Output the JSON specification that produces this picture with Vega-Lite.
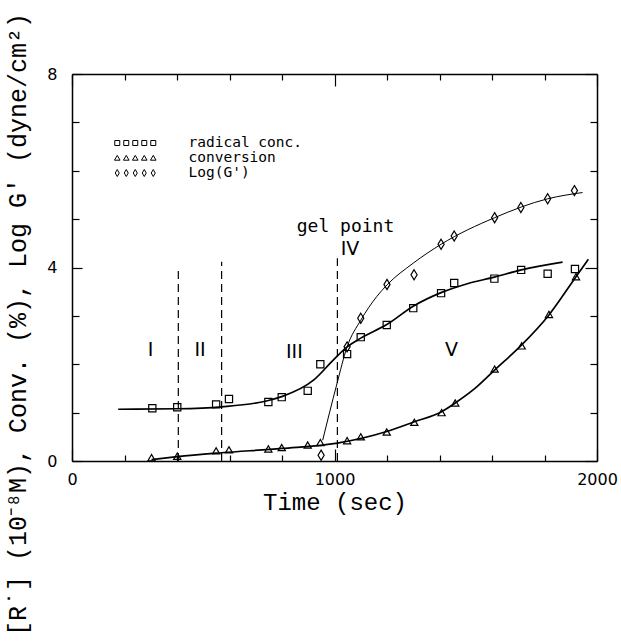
{
  "$schema": "https://vega.github.io/schema/vega-lite/v6.json",
  "width": 525,
  "height": 387,
  "autosize": {"type": "none"},
  "padding": {"left": 72, "top": 74, "right": 24, "bottom": 182},
  "background": "white",
  "config": {
    "view": {"stroke": null},
    "axis": {
      "domainColor": "black",
      "domainWidth": 1.5,
      "tickColor": "black",
      "tickWidth": 1.2,
      "labelColor": "black",
      "labelFont": "DejaVu Sans",
      "labelFontSize": 16,
      "titleColor": "black",
      "grid": false
    }
  },
  "datasets": {
    "pts": [
      {"series": "radical conc.", "time": 306, "value": 1.09},
      {"series": "radical conc.", "time": 401, "value": 1.11},
      {"series": "radical conc.", "time": 549, "value": 1.17},
      {"series": "radical conc.", "time": 598, "value": 1.28},
      {"series": "radical conc.", "time": 748, "value": 1.22},
      {"series": "radical conc.", "time": 799, "value": 1.32},
      {"series": "radical conc.", "time": 898, "value": 1.45},
      {"series": "radical conc.", "time": 946, "value": 2.0},
      {"series": "radical conc.", "time": 1048, "value": 2.21},
      {"series": "radical conc.", "time": 1100, "value": 2.56},
      {"series": "radical conc.", "time": 1199, "value": 2.81},
      {"series": "radical conc.", "time": 1300, "value": 3.16},
      {"series": "radical conc.", "time": 1406, "value": 3.47},
      {"series": "radical conc.", "time": 1456, "value": 3.68},
      {"series": "radical conc.", "time": 1609, "value": 3.77},
      {"series": "radical conc.", "time": 1711, "value": 3.95},
      {"series": "radical conc.", "time": 1812, "value": 3.87},
      {"series": "radical conc.", "time": 1916, "value": 3.97},
      {"series": "conversion", "time": 303, "value": 0.07},
      {"series": "conversion", "time": 401, "value": 0.1},
      {"series": "conversion", "time": 549, "value": 0.21},
      {"series": "conversion", "time": 598, "value": 0.23},
      {"series": "conversion", "time": 748, "value": 0.25},
      {"series": "conversion", "time": 799, "value": 0.28},
      {"series": "conversion", "time": 898, "value": 0.33},
      {"series": "conversion", "time": 946, "value": 0.38},
      {"series": "conversion", "time": 1048, "value": 0.42},
      {"series": "conversion", "time": 1100, "value": 0.5},
      {"series": "conversion", "time": 1199, "value": 0.6},
      {"series": "conversion", "time": 1304, "value": 0.8},
      {"series": "conversion", "time": 1408, "value": 1.0},
      {"series": "conversion", "time": 1460, "value": 1.2},
      {"series": "conversion", "time": 1610, "value": 1.9},
      {"series": "conversion", "time": 1713, "value": 2.38},
      {"series": "conversion", "time": 1817, "value": 3.03},
      {"series": "conversion", "time": 1920, "value": 3.81},
      {"series": "Log(G')", "time": 949, "value": 0.12},
      {"series": "Log(G')", "time": 1048, "value": 2.36},
      {"series": "Log(G')", "time": 1100, "value": 2.95},
      {"series": "Log(G')", "time": 1200, "value": 3.65},
      {"series": "Log(G')", "time": 1303, "value": 3.85},
      {"series": "Log(G')", "time": 1406, "value": 4.48},
      {"series": "Log(G')", "time": 1456, "value": 4.65},
      {"series": "Log(G')", "time": 1610, "value": 5.03},
      {"series": "Log(G')", "time": 1710, "value": 5.24},
      {"series": "Log(G')", "time": 1812, "value": 5.42},
      {"series": "Log(G')", "time": 1914, "value": 5.59}
    ],
    "curves": [
      {"series": "radical conc.", "time": 176, "value": 1.07},
      {"series": "radical conc.", "time": 401, "value": 1.08},
      {"series": "radical conc.", "time": 570, "value": 1.12},
      {"series": "radical conc.", "time": 748, "value": 1.25},
      {"series": "radical conc.", "time": 799, "value": 1.33},
      {"series": "radical conc.", "time": 920, "value": 1.67},
      {"series": "radical conc.", "time": 996, "value": 2.09},
      {"series": "radical conc.", "time": 1048, "value": 2.36},
      {"series": "radical conc.", "time": 1100, "value": 2.54},
      {"series": "radical conc.", "time": 1199, "value": 2.82},
      {"series": "radical conc.", "time": 1300, "value": 3.2},
      {"series": "radical conc.", "time": 1406, "value": 3.48},
      {"series": "radical conc.", "time": 1503, "value": 3.66},
      {"series": "radical conc.", "time": 1609, "value": 3.8},
      {"series": "radical conc.", "time": 1712, "value": 3.95},
      {"series": "radical conc.", "time": 1869, "value": 4.11},
      {"series": "conversion", "time": 303, "value": 0.03},
      {"series": "conversion", "time": 401, "value": 0.09},
      {"series": "conversion", "time": 570, "value": 0.17},
      {"series": "conversion", "time": 799, "value": 0.26},
      {"series": "conversion", "time": 1011, "value": 0.37},
      {"series": "conversion", "time": 1199, "value": 0.61},
      {"series": "conversion", "time": 1304, "value": 0.81},
      {"series": "conversion", "time": 1408, "value": 1.02},
      {"series": "conversion", "time": 1460, "value": 1.2},
      {"series": "conversion", "time": 1535, "value": 1.5},
      {"series": "conversion", "time": 1610, "value": 1.88},
      {"series": "conversion", "time": 1713, "value": 2.4},
      {"series": "conversion", "time": 1817, "value": 3.02},
      {"series": "conversion", "time": 1920, "value": 3.81},
      {"series": "conversion", "time": 1967, "value": 4.17},
      {"series": "Log(G')", "time": 955, "value": 0.43},
      {"series": "Log(G')", "time": 1008, "value": 1.57},
      {"series": "Log(G')", "time": 1048, "value": 2.36},
      {"series": "Log(G')", "time": 1100, "value": 2.91},
      {"series": "Log(G')", "time": 1161, "value": 3.4},
      {"series": "Log(G')", "time": 1200, "value": 3.64},
      {"series": "Log(G')", "time": 1300, "value": 4.09},
      {"series": "Log(G')", "time": 1406, "value": 4.48},
      {"series": "Log(G')", "time": 1610, "value": 5.03},
      {"series": "Log(G')", "time": 1812, "value": 5.42},
      {"series": "Log(G')", "time": 1945, "value": 5.55}
    ],
    "dividers": [
      {"time": 405, "bottom": 0, "top": 3.98},
      {"time": 570, "bottom": 0, "top": 4.12},
      {"time": 1011, "bottom": 0, "top": 4.19}
    ],
    "regions": [
      {"label": "I", "time": 299, "value": 2.29},
      {"label": "II", "time": 488, "value": 2.29},
      {"label": "III", "time": 847, "value": 2.26},
      {"label": "IV", "time": 1059, "value": 4.38},
      {"label": "V", "time": 1446, "value": 2.29}
    ],
    "notes": [
      {"label": "gel point", "time": 1042, "value": 4.84}
    ]
  },
  "layer": [
    {
      "data": {"name": "curves"},
      "mark": {"type": "line", "interpolate": "monotone", "color": "black"},
      "encoding": {
        "x": {
          "field": "time", "type": "quantitative",
          "scale": {"domain": [0, 2000], "nice": false},
          "axis": {
            "orient": "bottom",
            "values": [0, 200, 400, 600, 800, 1000, 1200, 1400, 1600, 1800, 2000],
            "format": "d",
            "labelExpr": "datum.value % 1000 === 0 ? datum.label : ''",
            "labelFlush": false,
            "labelOverlap": false,
            "tickSize": {"condition": {"test": "datum.value % 1000 === 0", "value": -12}, "value": -6},
            "labelPadding": 22,
            "title": "Time (sec)",
            "titleFont": "Liberation Mono",
            "titleFontSize": 24,
            "titleFontWeight": "normal",
            "titleY": 48,
            "titleBaseline": "alphabetic"
          }
        },
        "y": {
          "field": "value", "type": "quantitative",
          "scale": {"domain": [0, 8], "nice": false},
          "axis": {
            "orient": "left",
            "values": [0, 1, 2, 3, 4, 5, 6, 7, 8],
            "format": "d",
            "labelExpr": "datum.value % 4 === 0 ? datum.label : ''",
            "labelOverlap": false,
            "tickSize": {"condition": {"test": "datum.value % 4 === 0", "value": -10}, "value": -7},
            "labelPadding": 25,
            "title": "[R˙] (10⁻⁸M), Conv. (%), Log G′ (dyne/cm²)",
            "titleFont": "Liberation Mono",
            "titleFontSize": 25,
            "titleFontWeight": "normal",
            "titleX": -47,
            "titleY": 250,
            "titleAlign": "center",
            "titleBaseline": "alphabetic"
          }
        },
        "detail": {"field": "series", "type": "nominal"},
        "strokeWidth": {
          "condition": {"test": "datum.series === 'conversion' || datum.series === 'radical conc.'", "value": 1.7},
          "value": 1
        }
      }
    },
    {
      "data": {"name": "pts"},
      "mark": {"type": "point", "filled": false, "color": "black", "strokeWidth": 1.2, "size": 52, "opacity": 1},
      "encoding": {
        "x": {
          "field": "time", "type": "quantitative",
          "axis": {
            "orient": "top",
            "values": [0, 200, 400, 600, 800, 1000, 1200, 1400, 1600, 1800, 2000],
            "labels": false,
            "tickSize": {"condition": {"test": "datum.value % 1000 === 0", "value": -12}, "value": -6},
            "title": null
          }
        },
        "y": {
          "field": "value", "type": "quantitative",
          "axis": {
            "orient": "right",
            "values": [0, 1, 2, 3, 4, 5, 6, 7, 8],
            "labels": false,
            "tickSize": {"condition": {"test": "datum.value % 4 === 0", "value": -12}, "value": -7},
            "title": null
          }
        },
        "shape": {
          "field": "series", "type": "nominal",
          "scale": {
            "domain": ["radical conc.", "conversion", "Log(G')"],
            "range": ["square", "triangle-up", "M0,-1.4L0.85,0L0,1.4L-0.85,0Z"]
          },
          "legend": null
        }
      }
    },
    {
      "data": {"name": "pts"},
      "mark": {"type": "point", "filled": false, "color": "black", "strokeWidth": 1, "size": 0},
      "encoding": {
        "x": {"field": "time", "type": "quantitative", "axis": null},
        "y": {"field": "value", "type": "quantitative", "axis": null},
        "shape": {
          "field": "series", "type": "nominal",
          "scale": {
            "domain": ["radical conc.", "conversion", "Log(G')"],
            "range": [
              "M-6.5,-2.5h5v5h-5zM2.5,-2.5h5v5h-5zM11.5,-2.5h5v5h-5zM20.5,-2.5h5v5h-5zM29.5,-2.5h5v5h-5z",
              "M-4,-2.6l2.8,4.8h-5.6zM5,-2.6l2.8,4.8h-5.6zM14,-2.6l2.8,4.8h-5.6zM23,-2.6l2.8,4.8h-5.6zM32,-2.6l2.8,4.8h-5.6z",
              "M-4,-3.5l2,3.5l-2,3.5l-2,-3.5zM5,-3.5l2,3.5l-2,3.5l-2,-3.5zM14,-3.5l2,3.5l-2,3.5l-2,-3.5zM23,-3.5l2,3.5l-2,3.5l-2,-3.5zM32,-3.5l2,3.5l-2,3.5l-2,-3.5z"
            ]
          },
          "legend": {
            "orient": "none",
            "legendX": 42,
            "legendY": 63,
            "title": null,
            "padding": 0,
            "symbolSize": 4,
            "symbolStrokeWidth": 1,
            "symbolStrokeColor": "black",
            "symbolOpacity": 1,
            "labelFont": "DejaVu Sans Mono",
            "labelFontSize": 14.5,
            "labelColor": "black",
            "labelOffset": 60,
            "clipHeight": 12,
            "rowPadding": 0
          }
        }
      }
    },
    {
      "data": {"name": "dividers"},
      "mark": {"type": "rule", "color": "black", "strokeWidth": 1.2, "strokeDash": [8, 5]},
      "encoding": {
        "x": {"field": "time", "type": "quantitative", "axis": null},
        "y": {"field": "bottom", "type": "quantitative", "axis": null},
        "y2": {"field": "top"}
      }
    },
    {
      "data": {"name": "regions"},
      "mark": {"type": "text", "font": "DejaVu Sans", "fontSize": 19, "color": "black", "align": "center", "baseline": "middle"},
      "encoding": {
        "x": {"field": "time", "type": "quantitative", "axis": null},
        "y": {"field": "value", "type": "quantitative", "axis": null},
        "text": {"field": "label", "type": "nominal"}
      }
    },
    {
      "data": {"name": "notes"},
      "mark": {"type": "text", "font": "DejaVu Sans Mono", "fontSize": 18, "color": "black", "align": "center", "baseline": "middle"},
      "encoding": {
        "x": {"field": "time", "type": "quantitative", "axis": null},
        "y": {"field": "value", "type": "quantitative", "axis": null},
        "text": {"field": "label", "type": "nominal"}
      }
    }
  ],
  "resolve": {
    "axis": {"x": "independent", "y": "independent"},
    "scale": {"shape": "independent"}
  }
}
